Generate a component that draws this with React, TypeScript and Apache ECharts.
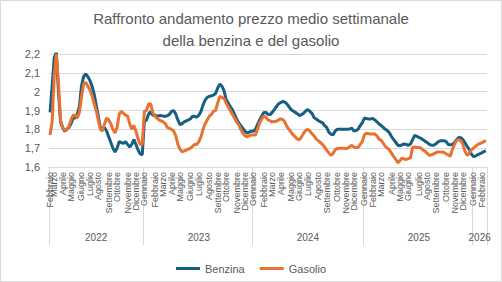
import React, { useEffect, useRef } from 'react';
import * as echarts from 'echarts';

const MONTHS = ['Gennaio', 'Febbraio', 'Marzo', 'Aprile', 'Maggio', 'Giugno', 'Luglio', 'Agosto', 'Settembre', 'Ottobre', 'Novembre', 'Dicembre'];

// number of weekly readings per month, per year (first month index given)
const years = [2022, 2023, 2024, 2025, 2026];
const firstMonth = [1, 0, 0, 0, 0];
const weeks2022 = [2, 4, 4, 5, 4, 4, 5, 4, 5, 4, 4];
const weeks2023 = [5, 4, 4, 4, 5, 4, 5, 4, 4, 5, 4, 4];
const weeks2024 = [5, 4, 4, 5, 4, 4, 5, 4, 5, 4, 4, 5];
const weeks2025 = [4, 4, 5, 4, 4, 5, 4, 4, 5, 4, 4, 5];
const weeks2026 = [4, 3];
const weeksByYear = [weeks2022, weeks2023, weeks2024, weeks2025, weeks2026];

const benzina2022 = [
  1.89, 2.03, 2.18, 2.21, 2.0, 1.84, 1.81, 1.79, 1.8, 1.81,
  1.83, 1.86, 1.86, 1.88, 1.92, 2.03, 2.08, 2.095, 2.08, 2.06,
  2.03, 1.99, 1.93, 1.87, 1.81, 1.8, 1.81, 1.79, 1.76, 1.73,
  1.7, 1.68, 1.7, 1.735, 1.73, 1.725, 1.735, 1.72, 1.705, 1.72,
  1.745, 1.72, 1.69, 1.67, 1.665,
];
const benzina2023 = [
  1.84, 1.85, 1.88, 1.895, 1.875, 1.875, 1.87, 1.872, 1.873, 1.87,
  1.87, 1.872, 1.88, 1.895, 1.9, 1.88, 1.85, 1.825, 1.83, 1.84,
  1.845, 1.85, 1.855, 1.87, 1.868, 1.865, 1.875, 1.895, 1.93, 1.955,
  1.97, 1.975, 1.978, 1.982, 1.99, 2.02, 2.04, 2.03, 2.005, 1.96,
  1.94, 1.92, 1.905, 1.88, 1.855, 1.835, 1.82, 1.805, 1.79, 1.78,
  1.785, 1.79,
];
const benzina2024 = [
  1.79, 1.8, 1.825, 1.85, 1.87, 1.89, 1.89, 1.88,
  1.878, 1.89, 1.905, 1.92, 1.935, 1.942, 1.948, 1.945, 1.935, 1.92,
  1.905, 1.897, 1.89, 1.883, 1.873, 1.878, 1.885, 1.898, 1.905, 1.895,
  1.885, 1.862, 1.855, 1.846, 1.84, 1.835, 1.82, 1.81, 1.785, 1.775,
  1.77, 1.79, 1.8, 1.8, 1.8, 1.8, 1.8, 1.8, 1.802, 1.807, 1.79, 1.795, 1.8, 1.82, 1.835,
];
const benzina2025 = [
  1.86, 1.857, 1.855, 1.855, 1.857, 1.85, 1.84, 1.828,
  1.82, 1.81, 1.8, 1.792, 1.78, 1.76, 1.745, 1.73, 1.715, 1.713,
  1.718, 1.722, 1.72, 1.715, 1.722, 1.745, 1.768, 1.763, 1.757, 1.752,
  1.745, 1.736, 1.73, 1.72, 1.716, 1.715, 1.722, 1.732, 1.738, 1.74,
  1.74, 1.735, 1.72, 1.718, 1.72, 1.73, 1.745, 1.757, 1.756, 1.745,
  1.728, 1.71, 1.695, 1.67,
];
const benzina2026 = [1.655, 1.658, 1.665, 1.67, 1.675, 1.682, 1.686];

const gasolio2022 = [
  1.77, 1.84, 2.08, 2.2, 2.05, 1.85, 1.81, 1.795, 1.8, 1.815,
  1.85, 1.875, 1.875, 1.86, 1.89, 1.97, 2.04, 2.05, 2.03, 2.01,
  1.98, 1.94, 1.9, 1.85, 1.8, 1.79, 1.83, 1.86, 1.85, 1.83,
  1.8, 1.78, 1.81, 1.88, 1.895, 1.885, 1.875, 1.87, 1.83, 1.8,
  1.82, 1.79, 1.75, 1.72, 1.72,
];
const gasolio2023 = [
  1.895, 1.9, 1.935, 1.935, 1.89, 1.87, 1.86, 1.85, 1.845, 1.84,
  1.83, 1.81, 1.805, 1.8, 1.79, 1.765, 1.72, 1.695, 1.68, 1.685,
  1.69, 1.695, 1.7, 1.71, 1.72, 1.72, 1.735, 1.76, 1.8, 1.83,
  1.85, 1.87, 1.88, 1.895, 1.9, 1.94, 1.975, 1.97, 1.965, 1.94,
  1.92, 1.9, 1.88, 1.86, 1.84, 1.825, 1.8, 1.78, 1.765, 1.76,
  1.765, 1.77,
];
const gasolio2024 = [
  1.77, 1.77, 1.8, 1.835, 1.855, 1.87, 1.865, 1.85,
  1.845, 1.84, 1.842, 1.843, 1.85, 1.855, 1.853, 1.84, 1.815, 1.8,
  1.785, 1.77, 1.76, 1.748, 1.745, 1.76, 1.78, 1.795, 1.8, 1.79,
  1.777, 1.765, 1.748, 1.74, 1.73, 1.72, 1.705, 1.69, 1.675, 1.662,
  1.67, 1.69, 1.698, 1.7, 1.7, 1.7, 1.698, 1.7, 1.708, 1.715, 1.705, 1.704, 1.704, 1.72, 1.735,
];
const gasolio2025 = [
  1.77, 1.78, 1.776, 1.775, 1.775, 1.775, 1.765, 1.748,
  1.742, 1.725, 1.71, 1.7, 1.69, 1.672, 1.655, 1.64, 1.622, 1.635,
  1.648, 1.642, 1.64, 1.645, 1.65, 1.705, 1.706, 1.704, 1.704, 1.7,
  1.69, 1.683, 1.672, 1.662, 1.665, 1.67, 1.675, 1.68, 1.68, 1.68,
  1.677, 1.67, 1.665, 1.657, 1.695, 1.72, 1.74, 1.745, 1.74, 1.72,
  1.683, 1.662, 1.672, 1.69,
];
const gasolio2026 = [1.7, 1.71, 1.718, 1.725, 1.728, 1.735, 1.74];

const benzina = [...benzina2022, ...benzina2023, ...benzina2024, ...benzina2025, ...benzina2026];
const gasolio = [...gasolio2022, ...gasolio2023, ...gasolio2024, ...gasolio2025, ...gasolio2026];

// build weekly categories "Mese|Anno|n"
const categories: string[] = [];
const yearStartIdx: number[] = [];
const yearMidIdx: number[] = [];
years.forEach((y, yi) => {
  const start = categories.length;
  yearStartIdx.push(start);
  weeksByYear[yi].forEach((cnt, k) => {
    const m = firstMonth[yi] + k;
    for (let w = 1; w <= cnt; w++) categories.push(`${MONTHS[m]}|${y}|${w}`);
  });
  const len = categories.length - start;
  yearMidIdx.push(start + Math.floor(len / 2));
});

const FONT = '"Liberation Sans", Arial, sans-serif';
const GRAY = '#595959';
const LINE = '#d9d9d9';

export default function App() {
  const ref = useRef<HTMLDivElement>(null);
  useEffect(() => {
    const chart = echarts.init(ref.current!, null, { renderer: 'svg' });
    chart.setOption({
      animation: false,
      backgroundColor: '#ffffff',
      textStyle: { fontFamily: FONT },
      title: {
        text: 'Raffronto andamento prezzo medio settimanale\ndella benzina e del gasolio',
        left: 'center',
        top: 2,
        textStyle: { fontSize: 15, fontWeight: 'normal', color: GRAY, lineHeight: 22, fontFamily: FONT },
      },
      graphic: [
        {
          type: 'rect',
          silent: true,
          z: -10,
          shape: { x: 0.5, y: 0.5, width: 501, height: 281 },
          style: { fill: 'none', stroke: LINE, lineWidth: 1 },
        },
      ],
      legend: {
        bottom: 3,
        left: 'center',
        icon: 'rect',
        itemWidth: 24,
        itemHeight: 3,
        itemGap: 15,
        textStyle: { fontSize: 11, color: GRAY, fontFamily: FONT },
        data: ['Benzina', 'Gasolio'],
      },
      grid: { left: 49, right: 15, top: 54, bottom: 115, containLabel: false },
      xAxis: [
        {
          type: 'category',
          data: categories,
          boundaryGap: true,
          axisLine: { show: true, lineStyle: { color: LINE } },
          axisTick: { show: false },
          axisLabel: {
            interval: 0,
            rotate: 90,
            margin: 5,
            fontSize: 9,
            color: GRAY,
            fontFamily: FONT,
            formatter: (v: string) => {
              const p = v.split('|');
              return p[2] === '1' ? p[0] : '';
            },
          },
        },
        {
          type: 'category',
          data: categories,
          boundaryGap: true,
          position: 'bottom',
          axisLine: { show: false },
          axisTick: {
            show: true,
            length: 78,
            interval: (i: number) => yearStartIdx.includes(i),
            lineStyle: { color: LINE },
          },
          axisLabel: {
            interval: 0,
            margin: 65,
            fontSize: 10,
            color: GRAY,
            fontFamily: FONT,
            formatter: (v: string) => {
              const idx = categories.indexOf(v);
              const k = yearMidIdx.indexOf(idx);
              return k >= 0 ? String(years[k]) : '';
            },
          },
        },
      ],
      yAxis: {
        type: 'value',
        min: 1.6,
        max: 2.2,
        interval: 0.1,
        axisLine: { show: false },
        axisTick: { show: false },
        splitLine: { lineStyle: { color: LINE } },
        axisLabel: {
          fontSize: 11,
          color: GRAY,
          margin: 9,
          fontFamily: FONT,
          formatter: (v: number) => String(Math.round(v * 10) / 10).replace('.', ','),
        },
      },
      series: [
        {
          name: 'Benzina',
          type: 'line',
          data: benzina,
          showSymbol: false,
          symbol: 'none',
          lineStyle: { width: 3, color: '#156082' },
          itemStyle: { color: '#156082' },
        },
        {
          name: 'Gasolio',
          type: 'line',
          data: gasolio,
          showSymbol: false,
          symbol: 'none',
          lineStyle: { width: 3, color: '#E97132' },
          itemStyle: { color: '#E97132' },
        },
      ],
    });
    return () => chart.dispose();
  }, []);
  return (
    <div
      ref={ref}
      style={{ position: 'fixed', left: 0, top: 0, width: 502, height: 282, background: '#fff' }}
    />
  );
}
